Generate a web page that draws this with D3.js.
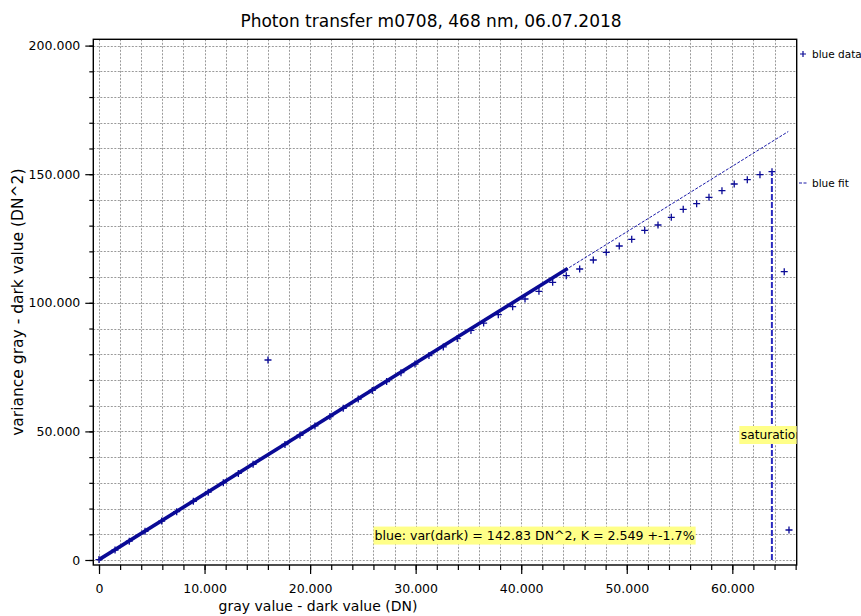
<!DOCTYPE html>
<html><head><meta charset="utf-8">
<script src="https://cdn.jsdelivr.net/npm/d3@7"></script>
<style>body{margin:0;background:#fff} svg{display:block;font-family:"DejaVu Sans",Verdana,sans-serif}</style>
</head><body>
<svg id="c" width="861" height="616"></svg>
<script>
// ---- data ----
const dataX = [0,1520,2870,4360,5940,7360,8940,10350,11780,13200,14600,16010,17620,19040,20460,21880,23140,24560,25890,27250,28610,29940,31260,32620,33940,35240,36440,37830,
  39190,40360,41680,42980,44270,45540,46830,48060,49290,50470,51700,52960,54220,55350,56620,57790,59020,60180,61420,62620,63760,64920,65370];
const dataY = [150,3880,7320,11130,15150,18770,22800,26390,30030,33650,37210,77760,44900,48510,52130,55750,58960,62570,65950,69390,72830,76170,79480,82850,86100,89250,92100,95400,
  98480,101480,104470,107970,110540,113140,116640,119630,122080,124690,128190,130250,133240,136350,138530,141020,143580,146190,147860,149810,150970,112090,11660];
const fitSlope = 2.549, fitIntercept = 142.83;
const fitRangeX = [0, 44400];     // fitted range (drawn solid)
const fitExtentX = [0, 65300];    // extrapolated fit (dashed)
const saturationX = 63750, saturationTopY = 151000;
const xMajorTicks = [0,10000,20000,30000,40000,50000,60000];
const xMinorTicks = d3.range(0, 66001, 2000);
const yMajorTicks = [0,50000,100000,150000,200000];
const yMinorTicks = d3.range(0, 200001, 10000);
const titleText = "Photon transfer m0708, 468 nm, 06.07.2018";
const xTitle = "gray value - dark value (DN)";
const yTitle = "variance gray - dark value (DN^2)";
const fitLabel = "blue: var(dark) = 142.83 DN^2, K = 2.549 +-1.7%";
const fitLabelPos = [26100, 9500];
const satLabel = "saturation";
const satLabelY = 48600;
const legendItems = ["blue data", "blue fit"];

// ---- layout ----
const L = 93.3, R = 796.7, T = 39.3, B = 565;
const x = d3.scaleLinear().domain([-540, 66100]).range([L, R]);
const y = d3.scaleLinear().domain([-1944, 202450]).range([B, T]);
const blue = "#0a0a96";
const fmt = d3.formatLocale({decimal:",",thousands:".",grouping:[3],currency:["",""]}).format(",d");

const svg = d3.select("#c");
svg.append("defs").append("clipPath").attr("id","clip")
  .append("rect").attr("x",L).attr("y",T).attr("width",R-L).attr("height",B-T);

// grid
const grid = svg.append("g").attr("stroke","#9a9a9a").attr("stroke-width",1).attr("stroke-dasharray","2,1.5").attr("clip-path","url(#clip)");
grid.selectAll("line.v").data(xMinorTicks).join("line")
  .attr("x1",d=>Math.round(x(d))+0.5).attr("x2",d=>Math.round(x(d))+0.5).attr("y1",T).attr("y2",B);
grid.selectAll("line.h").data(yMinorTicks).join("line")
  .attr("y1",d=>Math.round(y(d))+0.5).attr("y2",d=>Math.round(y(d))+0.5).attr("x1",L).attr("x2",R);

// axes
const xAxisMinor = d3.axisBottom(x).tickValues(xMinorTicks).tickSize(5).tickFormat("");
const xAxisMajor = d3.axisBottom(x).tickValues(xMajorTicks).tickSize(9).tickPadding(10).tickFormat(fmt);
const yAxisMinor = d3.axisLeft(y).tickValues(yMinorTicks).tickSize(4).tickFormat("");
const yAxisMajor = d3.axisLeft(y).tickValues(yMajorTicks).tickSize(8).tickPadding(5).tickFormat(fmt);
function styleAxis(g){ g.select(".domain").remove(); g.selectAll("line").attr("stroke","#000").attr("stroke-width",1.2);
  g.selectAll("text").attr("fill","#000").style("font-family",'"DejaVu Sans",Verdana,sans-serif').style("font-size","12.5px"); }
svg.append("g").attr("transform",`translate(0,${B})`).call(xAxisMinor).call(styleAxis);
svg.append("g").attr("transform",`translate(0,${B})`).call(xAxisMajor).call(styleAxis);
svg.append("g").attr("transform",`translate(${L},0)`).call(yAxisMinor).call(styleAxis);
svg.append("g").attr("transform",`translate(${L},0)`).call(yAxisMajor).call(styleAxis);

// frame
svg.append("rect").attr("x",L).attr("y",T).attr("width",R-L).attr("height",B-T)
  .attr("fill","none").attr("stroke","#000").attr("stroke-width",1.4);

const plot = svg.append("g").attr("clip-path","url(#clip)");
const fitLine = d3.line().x(d=>x(d)).y(d=>y(fitSlope*d+fitIntercept));
// dashed extrapolated fit
plot.append("path").datum(fitExtentX).attr("d",fitLine).attr("fill","none")
  .attr("stroke","#1a1aa8").attr("stroke-width",1).attr("stroke-dasharray","3,1.5");
// fitted range solid thick
plot.append("path").datum(fitRangeX).attr("d",fitLine).attr("fill","none")
  .attr("stroke",blue).attr("stroke-width",3.6);

// data markers
plot.selectAll("path.pt").data(dataX.map((d,i)=>[d,dataY[i]])).join("path")
  .attr("d","M-3.5,0H3.5M0,-3.5V3.5")
  .attr("transform",d=>`translate(${x(d[0])},${y(d[1])})`)
  .attr("stroke",blue).attr("stroke-width",1.3).attr("fill","none");

// saturation line
plot.append("line").attr("x1",x(saturationX)).attr("x2",x(saturationX))
  .attr("y1",y(0)).attr("y2",y(saturationTopY))
  .attr("stroke","#2a2ac0").attr("stroke-width",2).attr("stroke-dasharray","6,2");

// saturation label (centered on line, clipped)
const sl = plot.append("g");
const slt = sl.append("text").attr("x",x(saturationX)).attr("y",y(satLabelY)).attr("dy","0.35em")
  .attr("text-anchor","middle").style("font-size","12.2px").attr("fill","#000").text(satLabel);
const sb = slt.node().getBBox();
sl.insert("rect","text").attr("x",sb.x-1.5).attr("y",y(satLabelY)-9).attr("width",sb.width+3).attr("height",18).attr("fill","#ffff88");

// fit annotation
const al = plot.append("g");
const alt = al.append("text").attr("x",x(fitLabelPos[0])).attr("y",y(fitLabelPos[1])).attr("dy","0.35em")
  .style("font-size","12.6px").attr("fill","#000").text(fitLabel);
const ab = alt.node().getBBox();
al.insert("rect","text").attr("x",ab.x-1).attr("y",y(fitLabelPos[1])-9).attr("width",ab.width+2).attr("height",18).attr("fill","#ffff88");

// title
svg.append("text").attr("x",431).attr("y",27).attr("text-anchor","middle")
  .style("font-size","17px").attr("fill","#000").text(titleText);
// axis titles
svg.append("text").attr("x",318).attr("y",611).attr("text-anchor","middle")
  .style("font-size","14px").attr("fill","#000").text(xTitle);
svg.append("text").attr("transform",`translate(23,${(T+B)/2}) rotate(-90)`).attr("text-anchor","middle")
  .style("font-size","15.5px").attr("fill","#000").text(yTitle);

// legend
const lg = svg.append("g").style("font-size","10.5px");
lg.append("path").attr("d","M-3,0H3M0,-3V3").attr("transform","translate(803,54)").attr("stroke",blue).attr("stroke-width",1.2);
lg.append("text").attr("x",812).attr("y",54).attr("dy","0.35em").attr("fill","#000").text(legendItems[0]);
lg.append("line").attr("x1",799).attr("x2",807).attr("y1",183).attr("y2",183).attr("stroke","#1a1aa8").attr("stroke-width",1).attr("stroke-dasharray","3,1.5");
lg.append("text").attr("x",812).attr("y",183).attr("dy","0.35em").attr("fill","#000").text(legendItems[1]);
</script>
</body></html>
